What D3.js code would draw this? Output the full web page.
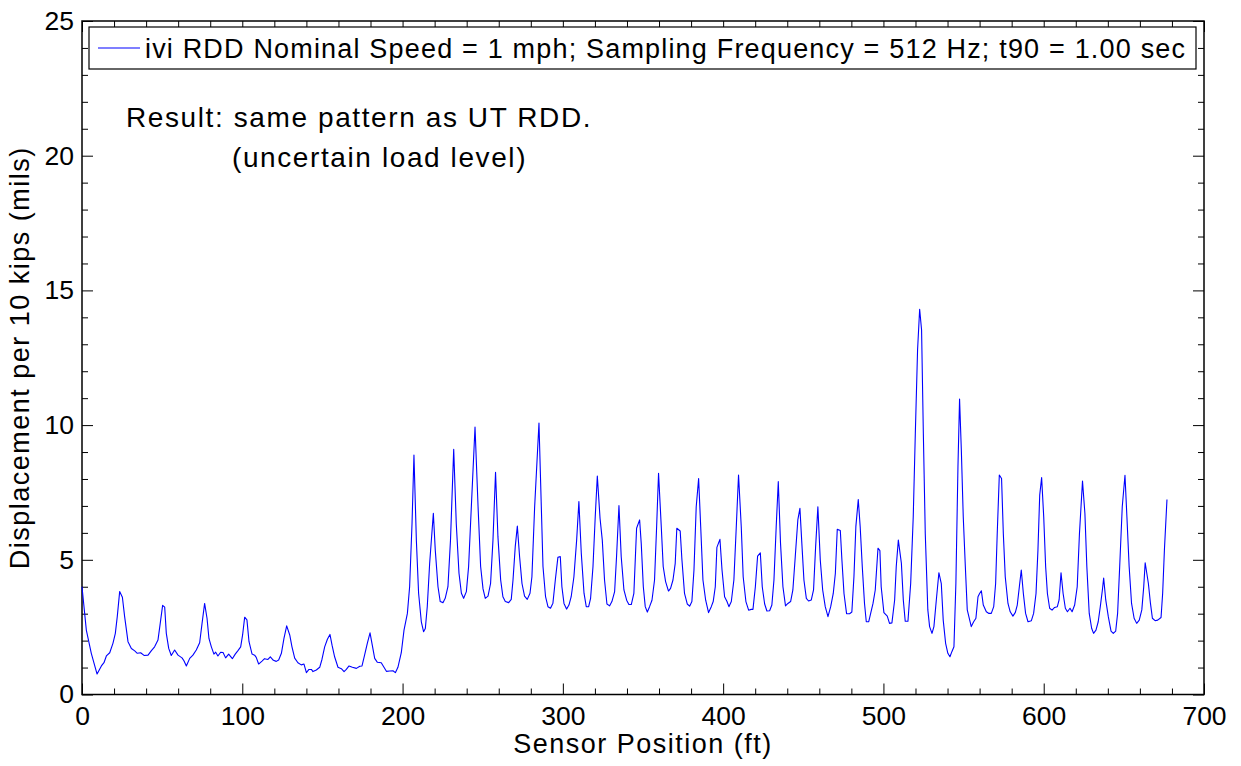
<!DOCTYPE html>
<html>
<head>
<meta charset="utf-8">
<script src="https://cdn.jsdelivr.net/npm/d3@7"></script>
<style>
  body { margin: 0; background: #fff; }
  svg { display: block; font-family: "Liberation Sans", Arial, Helvetica, sans-serif; }
  .tick line { stroke: #000; }
</style>
</head>
<body>
<svg id="chart" width="1241" height="766"></svg>
<script>
// sensor position (ft) and displacement per 10 kips (mils)
const posFt = [
  0,2.7,5.8,9.4,12.1,13.7,15.2,17.3,19.3,20.8,22.0,23.5,25.2,26.6,28.7,30.8,32.9,34.5,36.6,38.7,
  41.2,43.3,45.3,47.4,49.1,50.3,51.6,52.6,54.1,55.7,57.8,59.9,62.4,63.6,65.1,67.2,69.2,71.3,73.4,74.9,
  76.5,78.0,79.2,80.7,82.3,83.4,84.8,86.5,88.0,89.6,91.5,93.8,95.6,97.3,99.0,100.2,101.5,102.9,104.2,106.1,
  107.7,108.7,110.2,112.3,113.9,116.0,117.5,119.4,121.2,122.7,124.4,126.0,127.7,129.6,131.0,132.7,134.7,136.8,138.5,140.0,
  141.6,143.1,144.1,146.2,148.3,149.7,151.4,153.1,154.7,156.0,157.6,159.7,161.8,163.5,164.9,166.6,168.7,171.2,173.3,174.7,
  176.3,178.0,179.7,181.1,182.6,184.2,186.7,188.4,189.9,192.0,194.0,195.5,197.1,199.2,200.9,203.0,204.4,205.9,207.1,208.6,
  210.0,211.7,213.1,214.2,215.4,216.9,219.2,220.4,222.1,223.5,225.2,226.6,228.3,229.9,231.9,233.5,235.2,236.7,238.1,239.8,
  241.2,242.9,245.2,247.1,248.7,250.2,251.6,253.3,254.9,256.4,258.0,259.5,261.2,262.6,264.1,266.2,267.8,268.9,270.3,271.6,
  273.0,274.5,276.1,277.8,279.5,280.7,282.4,285.1,287.6,289.2,290.7,292.3,293.8,295.3,296.9,298.4,299.4,300.7,302.3,303.8,
  305.2,306.9,308.6,310.0,311.5,313.2,314.6,316.1,317.3,318.8,320.2,321.5,323.2,324.6,326.0,327.5,329.2,330.6,332.3,333.5,
  335.0,336.4,338.1,339.8,341.2,342.7,344.3,346.0,347.9,348.9,350.2,351.4,352.7,354.1,355.6,357.2,358.5,359.7,361.4,362.6,
  364.1,365.9,367.2,368.7,370.1,371.1,373.2,374.3,375.9,377.6,379.1,380.5,381.8,383.2,384.7,386.0,387.4,389.1,390.9,392.6,
  393.8,395.1,396.1,398.0,399.3,400.9,402.4,403.6,405.1,406.7,408.2,409.6,411.3,412.5,414.2,415.9,417.5,418.6,420.1,421.5,
  423.2,424.4,425.9,427.3,429.0,430.4,431.7,433.1,434.4,435.8,437.3,438.9,440.4,442.1,443.5,445.0,446.6,447.9,449.1,450.4,
  451.9,453.3,455.0,456.4,457.7,459.1,460.6,462.1,463.7,465.4,467.1,468.7,470.0,471.2,473.1,474.1,475.4,477.0,478.9,480.3,
  481.6,482.8,484.3,485.5,486.8,488.2,489.3,490.8,492.0,493.5,494.9,496.6,497.8,498.6,500.3,502.4,503.8,505.3,507.0,508.0,
  509.3,511.2,512.4,513.6,515.3,517.0,518.6,519.9,521.3,522.6,523.8,524.9,526.1,527.7,528.8,530.3,531.5,533.0,534.6,536.1,
  537.3,538.8,540.2,541.5,542.7,544.0,545.2,546.5,547.5,548.6,549.8,551.1,552.3,554.8,556.3,557.7,559.0,560.0,561.1,562.3,
  564.2,565.8,567.3,568.8,570.0,571.0,572.3,573.7,574.8,576.0,577.7,579.1,580.8,582.3,583.5,584.8,586.0,587.3,588.7,590.2,
  592.3,593.7,595.2,596.4,597.5,598.7,600.0,601.2,602.3,603.7,605.2,606.8,608.5,609.6,610.8,612.1,613.5,614.8,616.4,617.7,
  619.3,620.9,622.3,624.2,625.7,626.9,628.4,629.9,631.1,632.6,634.0,635.3,636.6,637.4,638.7,640.3,642.0,643.4,644.9,646.1,
  647.4,649.0,650.7,651.9,653.3,654.8,656.4,658.0,659.6,661.2,662.4,663.3,665.3,666.6,667.8,669.5,671.1,673.2,674.2,675.3,
  676.9
];
const dispMils = [
  4.00,2.39,1.53,0.76,1.06,1.18,1.43,1.55,1.90,2.27,2.89,3.82,3.61,2.89,1.96,1.71,1.62,1.53,1.55,1.45,
  1.46,1.63,1.77,2.02,2.77,3.31,3.24,2.27,1.71,1.45,1.65,1.46,1.36,1.25,1.06,1.34,1.46,1.65,1.92,2.64,
  3.38,2.83,2.08,1.77,1.50,1.57,1.43,1.57,1.56,1.36,1.50,1.33,1.50,1.63,1.77,2.21,2.87,2.77,1.96,1.50,
  1.46,1.38,1.13,1.24,1.33,1.30,1.40,1.27,1.23,1.28,1.53,2.08,2.55,2.21,1.77,1.35,1.18,1.10,1.13,0.81,
  0.93,0.93,0.85,0.91,1.01,1.30,1.77,2.05,2.23,1.83,1.40,1.01,0.96,0.85,0.93,1.06,1.01,0.97,1.05,1.06,
  1.46,1.90,2.29,1.83,1.34,1.20,1.18,1.01,0.86,0.87,0.88,0.81,1.01,1.55,2.39,3.01,4.00,6.35,8.89,5.73,
  3.76,2.70,2.33,2.45,3.26,4.87,6.73,5.36,4.00,3.45,3.41,3.57,4.00,5.73,9.10,6.35,4.50,3.76,3.57,3.82,
  4.75,6.97,9.93,6.97,4.75,3.92,3.57,3.65,4.12,5.73,8.25,5.85,4.25,3.63,3.45,3.41,3.53,4.25,5.49,6.25,
  5.12,4.12,3.65,3.53,3.76,4.37,6.97,10.08,4.75,3.63,3.26,3.20,3.39,4.25,5.09,5.12,4.00,3.38,3.17,3.32,
  3.63,4.37,5.73,7.16,5.24,3.76,3.26,3.26,3.57,4.75,6.60,8.11,6.54,5.73,4.25,3.36,3.29,3.45,3.82,5.12,
  7.01,5.12,3.88,3.50,3.34,3.34,3.75,6.17,6.48,5.61,4.00,3.26,3.06,3.26,3.50,4.25,6.23,8.21,6.23,4.75,
  4.19,3.84,3.94,4.25,4.87,6.17,6.07,4.99,3.75,3.36,3.28,3.45,4.62,6.97,8.02,6.23,4.25,3.50,3.04,3.26,
  3.45,4.00,5.46,5.76,4.62,3.63,3.45,3.26,3.45,4.25,6.23,8.15,6.23,4.37,3.45,3.13,3.16,3.16,4.00,5.14,
  5.26,4.00,3.36,3.10,3.11,3.32,4.25,6.23,7.90,5.61,4.00,3.29,3.38,3.45,3.88,5.12,6.48,6.91,5.61,4.25,
  3.57,3.47,3.51,3.88,5.49,6.97,4.99,3.88,3.26,2.89,3.26,3.75,4.49,6.13,6.09,4.99,3.75,3.00,3.00,3.06,
  4.37,6.23,7.24,6.23,4.75,3.38,2.70,2.70,3.00,3.38,3.88,5.43,5.34,4.00,3.04,2.91,2.64,2.66,3.51,4.75,
  5.73,4.87,3.51,2.72,2.72,4.12,6.60,9.70,12.79,14.30,13.53,9.70,5.98,3.14,2.52,2.27,2.52,3.51,4.52,4.12,
  2.76,1.90,1.53,1.40,1.59,1.77,4.12,8.46,10.97,9.08,6.60,4.75,3.14,2.52,2.70,2.83,3.63,3.75,3.85,3.32,
  3.07,3.01,3.01,3.26,4.12,5.98,8.15,8.02,5.98,4.37,3.38,3.07,2.91,3.05,3.32,4.00,4.62,3.75,3.01,2.70,
  2.74,3.01,3.75,5.36,7.40,8.05,6.60,4.75,3.75,3.20,3.13,3.23,3.26,3.51,4.52,3.75,3.20,3.07,3.20,3.07,
  3.32,4.00,5.98,7.92,6.72,4.75,3.01,2.46,2.27,2.39,2.70,3.26,3.88,4.32,3.51,2.89,2.35,2.27,2.35,3.01,
  4.75,6.97,8.14,6.60,4.75,3.38,2.83,2.64,2.76,3.14,4.00,4.89,4.12,3.38,2.83,2.74,2.76,2.86,3.75,5.36,
  7.24
];
const xMajorTicks = [0, 100, 200, 300, 400, 500, 600, 700];
const yMajorTicks = [0, 5, 10, 15, 20, 25];
const legendLabel = "ivi RDD Nominal Speed = 1 mph; Sampling Frequency = 512 Hz; t90 = 1.00 sec";
const noteLines = ["Result: same pattern as UT RDD.", "(uncertain load level)"];

const svg = d3.select("#chart");
const m = {left: 82, top: 21, right: 1204, bottom: 694.5};
const x = d3.scaleLinear().domain([0, 700]).range([m.left, m.right]);
const y = d3.scaleLinear().domain([0, 25]).range([m.bottom, m.top]);

const xMinor = d3.range(0, 701, 20).filter(v => v % 100);
const yMinor = d3.range(0, 26, 1).filter(v => v % 5);

function styleAxis(g, labels) {
  g.select(".domain").remove();
  g.selectAll(".tick line").attr("stroke", "#000").attr("stroke-width", 1);
  g.selectAll("text").attr("fill", labels ? "#000" : "none").attr("font-size", 26.5)
    .attr("font-family", "Liberation Sans, Arial, sans-serif");
}

// bottom
svg.append("g").attr("transform", `translate(0,${m.bottom})`)
  .call(d3.axisBottom(x).tickValues(xMajorTicks).tickSize(-11).tickPadding(12).tickFormat(d3.format("d")))
  .call(g => styleAxis(g, true));
svg.append("g").attr("transform", `translate(0,${m.bottom})`)
  .call(d3.axisBottom(x).tickValues(xMinor).tickSize(-6).tickFormat(""))
  .call(g => styleAxis(g, false));
// top
svg.append("g").attr("transform", `translate(0,${m.top})`)
  .call(d3.axisTop(x).tickValues(xMajorTicks).tickSize(-11).tickFormat(""))
  .call(g => styleAxis(g, false));
svg.append("g").attr("transform", `translate(0,${m.top})`)
  .call(d3.axisTop(x).tickValues(xMinor).tickSize(-6).tickFormat(""))
  .call(g => styleAxis(g, false));
// left
svg.append("g").attr("transform", `translate(${m.left},0)`)
  .call(d3.axisLeft(y).tickValues(yMajorTicks).tickSize(-11).tickPadding(8).tickFormat(d3.format("d")))
  .call(g => styleAxis(g, true));
svg.append("g").attr("transform", `translate(${m.left},0)`)
  .call(d3.axisLeft(y).tickValues(yMinor).tickSize(-6).tickFormat(""))
  .call(g => styleAxis(g, false));
// right
svg.append("g").attr("transform", `translate(${m.right},0)`)
  .call(d3.axisRight(y).tickValues(yMajorTicks).tickSize(-11).tickFormat(""))
  .call(g => styleAxis(g, false));
svg.append("g").attr("transform", `translate(${m.right},0)`)
  .call(d3.axisRight(y).tickValues(yMinor).tickSize(-6).tickFormat(""))
  .call(g => styleAxis(g, false));

// box
svg.append("rect")
  .attr("x", m.left).attr("y", m.top)
  .attr("width", m.right - m.left).attr("height", m.bottom - m.top)
  .attr("fill", "none").attr("stroke", "#000").attr("stroke-width", 1.5);

// data line
const line = d3.line().x((d, i) => x(posFt[i])).y(d => y(d));
svg.append("path")
  .datum(dispMils)
  .attr("d", line)
  .attr("fill", "none")
  .attr("stroke", "#0000ff")
  .attr("stroke-width", 1.1)
  .attr("stroke-linejoin", "round");

// axis titles
svg.append("text")
  .attr("x", (m.left + m.right) / 2).attr("y", 753)
  .attr("text-anchor", "middle").attr("font-size", 27).attr("letter-spacing", 1.5)
  .text("Sensor Position (ft)");
svg.append("text")
  .attr("transform", `translate(29,${(m.top + m.bottom) / 2}) rotate(-90)`)
  .attr("text-anchor", "middle").attr("font-size", 27).attr("letter-spacing", 1.5)
  .text("Displacement per 10 kips (mils)");

// legend
const lg = svg.append("g");
lg.append("rect")
  .attr("x", 89).attr("y", 27).attr("width", 1107).attr("height", 42)
  .attr("fill", "#fff").attr("stroke", "#000").attr("stroke-width", 1.2);
lg.append("line")
  .attr("x1", 98).attr("x2", 140).attr("y1", 48).attr("y2", 48)
  .attr("stroke", "#0000ff").attr("stroke-width", 1.1);
lg.append("text")
  .attr("x", 145).attr("y", 57.5).attr("font-size", 27)
  .attr("textLength", 1040).attr("lengthAdjust", "spacing")
  .text(legendLabel);

// annotation
svg.append("text").attr("x", 126).attr("y", 127).attr("font-size", 28).attr("letter-spacing", 1.6).text(noteLines[0]);
svg.append("text").attr("x", 232).attr("y", 167).attr("font-size", 28).attr("letter-spacing", 1.6).text(noteLines[1]);
</script>
</body>
</html>
